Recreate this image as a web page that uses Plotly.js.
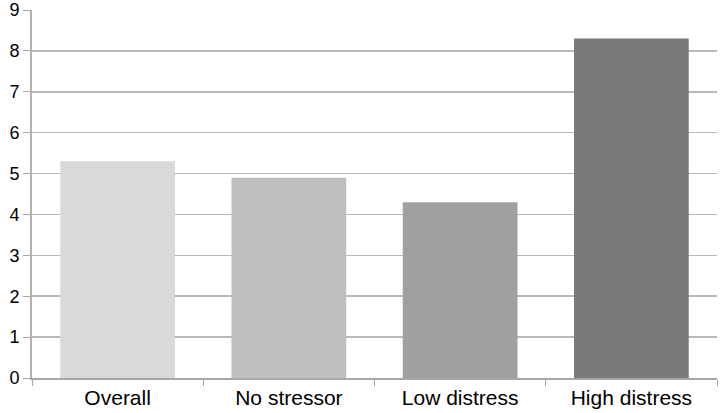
<!DOCTYPE html>
<html><head><meta charset="utf-8">
<script src="https://cdn.plot.ly/plotly-3.0.1.min.js"></script>
<style>html,body{margin:0;padding:0;background:#fff}#c{width:720px;height:413px}</style>
</head><body><div id="c"></div>
<script>
const categories = ["Overall", "No stressor", "Low distress", "High distress"];
const values = [5.3, 4.9, 4.3, 8.3];
const barColors = ["#d9d9d9", "#bfbfbf", "#a0a0a0", "#7a7a7a"];
const yTicks = [0,1,2,3,4,5,6,7,8,9];

Plotly.newPlot("c", [{
  type: "bar", x: categories, y: values,
  marker: {color: barColors, line: {width: 0}},
  hoverinfo: "none"
}], {
  width: 720, height: 413,
  margin: {l: 32, r: 3, t: 10, b: 35},
  paper_bgcolor: "#fff", plot_bgcolor: "#fff",
  bargap: 0.33,
  showlegend: false,
  font: {family: "Liberation Sans, Arial, sans-serif", size: 21, color: "#000"},
  xaxis: {
    tickson: "boundaries", ticks: "outside", ticklen: 6, tickcolor: "#a6a6a6",
    showline: true, linecolor: "#a6a6a6", linewidth: 2,
    showgrid: false, tickfont: {size: 21}
  },
  yaxis: {
    range: [0, 9], tickvals: yTicks, ticks: "outside", ticklen: 7, tickcolor: "#a6a6a6",
    showline: true, linecolor: "#b0b0b0", linewidth: 2,
    showgrid: true, gridcolor: "#b8b8b8", gridwidth: 1.5,
    zeroline: false, tickfont: {size: 18}
  }
}, {staticPlot: true});
</script></body></html>
